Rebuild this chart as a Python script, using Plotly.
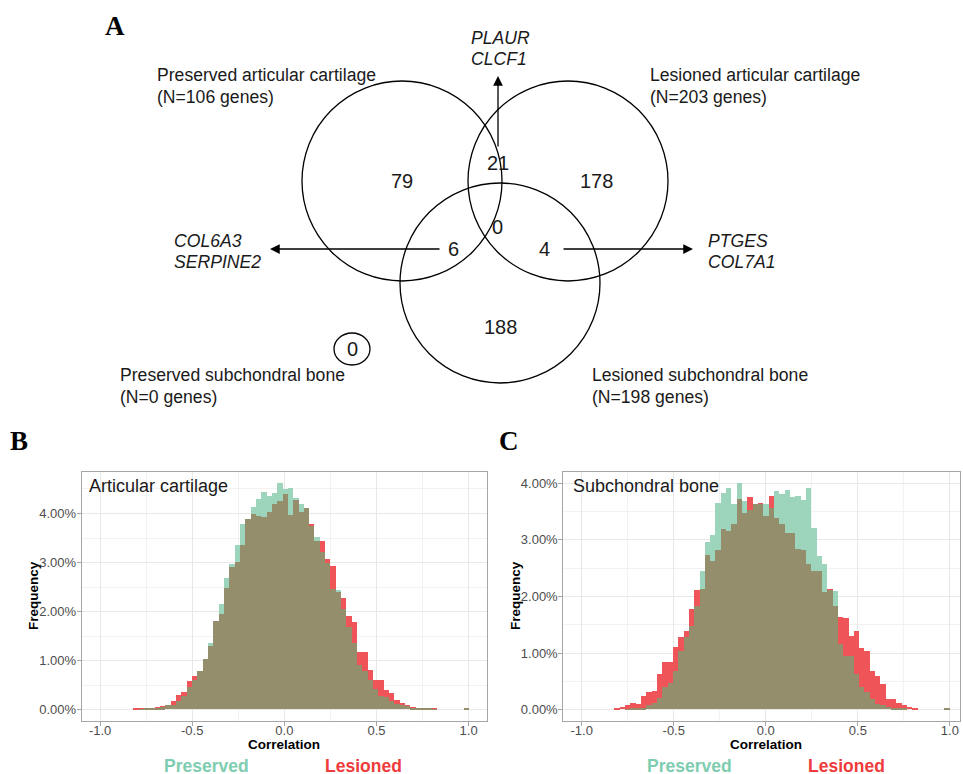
import numpy as np
import plotly.graph_objects as go

W, H = 963, 774

# ---------------- histogram data (percent of pairs per correlation bin) ----------------
BIN_START = -0.8207
BIN_WIDTH = 0.0289

cart_preserved = [0.00, 0.005, 0.01, 0.01, 0.02, 0.04, 0.09, 0.09, 0.18, 0.28,
                  0.45, 0.59, 0.79, 1.03, 1.36, 1.80, 2.15, 2.68, 2.96, 3.35,
                  3.78, 3.89, 4.12, 4.29, 4.44, 4.35, 4.42, 4.61, 4.50, 4.52,
                  4.32, 4.19, 4.11, 3.73, 3.52, 3.20, 2.98, 2.45, 2.43, 2.05,
                  1.69, 1.35, 0.91, 0.78, 0.59, 0.42, 0.28, 0.26, 0.18, 0.12,
                  0.10, 0.07, 0.03, 0.03, 0.02, 0.01, 0.005, 0, 0, 0,
                  0, 0, 0.02]
cart_lesioned = [0.01, 0.01, 0.02, 0.02, 0.04, 0.07, 0.09, 0.17, 0.30, 0.35,
                 0.57, 0.68, 0.79, 1.03, 1.29, 1.80, 1.95, 2.47, 2.90, 3.01,
                 3.35, 3.88, 3.98, 3.94, 3.93, 4.02, 4.19, 4.25, 4.40, 3.96,
                 4.27, 4.03, 4.11, 3.77, 3.44, 3.43, 3.06, 2.93, 2.40, 2.28,
                 1.91, 1.78, 1.17, 1.17, 0.81, 0.60, 0.60, 0.39, 0.34, 0.20,
                 0.14, 0.10, 0.05, 0.035, 0.03, 0.015, 0.01, 0, 0, 0,
                 0, 0, 0.02]
bone_preserved = [0.00, 0.00, 0.005, 0.01, 0.02, 0.02, 0.07, 0.11, 0.20, 0.39,
                  0.46, 0.68, 1.03, 1.27, 1.47, 1.82, 2.44, 2.96, 3.08, 3.65,
                  3.82, 3.91, 3.63, 3.99, 3.67, 3.52, 3.63, 3.62, 3.62, 3.56,
                  3.85, 3.81, 3.88, 3.75, 3.77, 3.70, 3.90, 3.21, 2.71, 2.56,
                  2.10, 2.09, 1.15, 0.94, 0.94, 0.62, 0.39, 0.30, 0.18, 0.10,
                  0.07, 0.04, 0.03, 0.02, 0.01, 0, 0, 0, 0, 0,
                  0, 0, 0.02]
bone_lesioned = [0.02, 0.04, 0.07, 0.12, 0.10, 0.24, 0.30, 0.32, 0.63, 0.83,
                 0.83, 1.10, 1.28, 1.38, 1.78, 2.11, 2.13, 2.73, 2.62, 2.82,
                 3.19, 3.14, 3.27, 3.72, 3.46, 3.74, 3.63, 3.65, 3.41, 3.77,
                 3.38, 3.28, 3.12, 3.12, 2.83, 2.82, 2.57, 2.44, 2.44, 2.07,
                 2.12, 1.82, 1.63, 1.61, 1.30, 1.38, 1.09, 1.03, 0.67, 0.59,
                 0.44, 0.18, 0.18, 0.11, 0.07, 0.04, 0.01, 0, 0, 0,
                 0, 0, 0.02]

x_ticks = [-1.0, -0.5, 0.0, 0.5, 1.0]
x_tick_labels = ["-1.0", "-0.5", "0.0", "0.5", "1.0"]
y_ticks = [0, 1, 2, 3, 4]
y_tick_labels = ["0.00%", "1.00%", "2.00%", "3.00%", "4.00%"]

# ---------------- Venn data ----------------
set_names = ["Preserved articular cartilage", "Lesioned articular cartilage",
             "Preserved subchondral bone", "Lesioned subchondral bone"]
set_sizes = [106, 203, 0, 198]
region_keys = ["pac", "pac_lac", "lac", "all3", "pac_lsb", "lac_lsb", "lsb", "psb"]
region_counts = [79, 21, 178, 0, 6, 4, 188, 0]
genes_pac_lac = ["PLAUR", "CLCF1"]
genes_pac_lsb = ["COL6A3", "SERPINE2"]
genes_lac_lsb = ["PTGES", "COL7A1"]

# ---------------- styling ----------------
GREEN = "#9dd5bc"
RED = "#ef5558"
OLIVE = "#958e6c"
SANS = "Liberation Sans, Arial, sans-serif"
SERIF = "Liberation Serif, Times New Roman, serif"


def X(px):
    return px / W


def Y(py):
    return 1 - py / H


centers = BIN_START + BIN_WIDTH * (np.arange(len(cart_preserved)) + 0.5)

fig = go.Figure()


def add_hist(pres, les, xa, ya):
    pres = np.array(pres)
    les = np.array(les)
    for vals, col, name in [(pres, GREEN, "Preserved"), (les, RED, "Lesioned"),
                            (np.minimum(pres, les), OLIVE, "Both")]:
        fig.add_trace(go.Bar(x=centers, y=vals, width=BIN_WIDTH, name=name,
                             marker=dict(color=col, line=dict(width=0)),
                             xaxis=xa, yaxis=ya, showlegend=False))


add_hist(cart_preserved, cart_lesioned, "x", "y")
add_hist(bone_preserved, bone_lesioned, "x2", "y2")

axis_common = dict(showline=True, mirror=True, linecolor="#a6a6a6", linewidth=1,
                   ticks="outside", ticklen=4, tickcolor="#a6a6a6",
                   showgrid=True, gridcolor="#e8e8e8", gridwidth=1,
                   zeroline=False, tickfont=dict(family=SANS, size=13, color="#4d4d4d"))

xcommon = dict(axis_common, tickvals=x_ticks, ticktext=x_tick_labels, ticklabelstandoff=-7,
               minor=dict(dtick=0.25, tick0=0, showgrid=True, gridcolor="#f2f2f2", ticks=""))
ycommon = dict(axis_common, tickvals=y_ticks, ticktext=y_tick_labels, ticklabelstandoff=-2,
               minor=dict(dtick=0.5, tick0=0, showgrid=True, gridcolor="#f2f2f2", ticks=""))

fig.update_layout(
    width=W, height=H, margin=dict(l=0, r=0, t=0, b=0, pad=0),
    paper_bgcolor="white", plot_bgcolor="white", barmode="overlay", bargap=0,
    xaxis=dict(xcommon, domain=[X(81.7), X(487)], range=[-1.1, 1.1], anchor="y"),
    yaxis=dict(ycommon, domain=[Y(721), Y(472.3)], range=[-0.23, 4.84], anchor="x"),
    xaxis2=dict(xcommon, domain=[X(563.3), X(960)], range=[-1.1, 1.055], anchor="y2"),
    yaxis2=dict(ycommon, domain=[Y(721), Y(472.3)], range=[-0.2, 4.19], anchor="x2"),
)

ann = []


def text(px, py, s, size, color="black", family=SANS, xanchor="center", angle=0):
    ann.append(dict(x=X(px), y=Y(py), xref="paper", yref="paper", text=s, showarrow=False,
                    xanchor=xanchor, yanchor="middle", textangle=angle,
                    font=dict(family=family, size=size, color=color)))


# panel letters
text(115, 26, "<b>A</b>", 27, family=SERIF)
text(19, 441, "<b>B</b>", 27, family=SERIF)
text(509, 441, "<b>C</b>", 27, family=SERIF)

# histogram labels
for left, cx, title, pres_x, les_x in [(88, 284, "Articular cartilage", 206, 363),
                                       (572, 766, "Subchondral bone", 689, 846)]:
    text(left - 1, 486, title, 18, color="#1a1a1a", xanchor="left")
    text(cx, 744, "<b>Correlation</b>", 13.5)
    text(pres_x, 766, "<b>Preserved</b>", 17.5, color="#7fcdb0")
    text(les_x, 766, "<b>Lesioned</b>", 17.5, color="#ee3b3b")
text(33, 596, "<b>Frequency</b>", 13.5, angle=-90)
text(515, 596, "<b>Frequency</b>", 13.5, angle=-90)

# Venn diagram
circles = [(402, 181, 100), (568, 181, 100), (500, 283, 100)]
shapes = []
for cx, cy, r in circles:
    shapes.append(dict(type="circle", xref="paper", yref="paper",
                       x0=X(cx - r), x1=X(cx + r), y0=Y(cy - r), y1=Y(cy + r),
                       line=dict(color="black", width=1.3)))
shapes.append(dict(type="circle", xref="paper", yref="paper",
                   x0=X(334), x1=X(370), y0=Y(333), y1=Y(365),
                   line=dict(color="black", width=1.3)))

region_pos = {"pac": (402, 181), "pac_lac": (498, 163), "lac": (596, 181), "all3": (498, 227),
              "pac_lsb": (453, 249), "lac_lsb": (544, 249), "lsb": (500, 327), "psb": (352, 349)}
for key, n in zip(region_keys, region_counts):
    px, py = region_pos[key]
    text(px, py, str(n), 20, color="#1a1a1a")

set_label_pos = [(155, 75), (648, 75), (118, 375), (590, 375)]
for (px, py), name, n in zip(set_label_pos, set_names, set_sizes):
    text(px, py, name, 17.6, color="#1a1a1a", xanchor="left")
    text(px, py + 22, f"(N={n} genes)", 17.6, color="#1a1a1a", xanchor="left")

for (px, py), genes in [((469, 38), genes_pac_lac), ((172, 241), genes_pac_lsb), ((706, 241), genes_lac_lsb)]:
    for k, g in enumerate(genes):
        text(px, py + 21.5 * k, f"<i>{g}</i>", 17.6, color="#1a1a1a", xanchor="left")

# arrows pointing to gene lists
for tip, tail in [((498, 76), (498, 148)), ((270, 249), (441, 249)), ((693, 249), (562, 249))]:
    ann.append(dict(x=X(tip[0]), y=Y(tip[1]), xref="paper", yref="paper",
                    ax=tail[0] - tip[0], ay=tail[1] - tip[1], axref="pixel", ayref="pixel",
                    text="", showarrow=True, arrowhead=2, arrowsize=1.5, arrowwidth=1.3,
                    arrowcolor="black"))

fig.update_layout(annotations=ann, shapes=shapes)
fig.write_html("out.html")
